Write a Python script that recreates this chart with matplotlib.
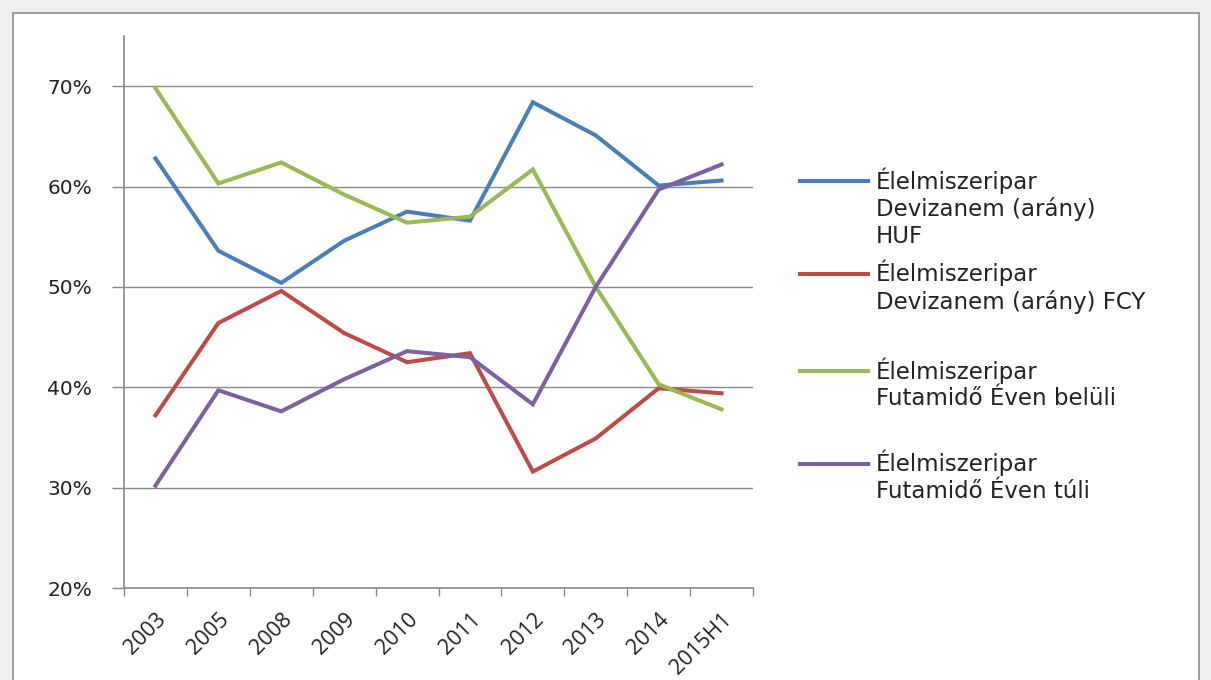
import matplotlib
matplotlib.use("Agg")
import matplotlib.pyplot as plt
from matplotlib.lines import Line2D
from matplotlib.patches import Rectangle
from matplotlib.ticker import FixedLocator, PercentFormatter

# data (percent)
years = ['2003', '2005', '2008', '2009', '2010', '2011', '2012', '2013', '2014', '2015H1']
huf = [62.8, 53.6, 50.4, 54.6, 57.5, 56.6, 68.4, 65.1, 60.1, 60.6]
fcy = [37.2, 46.4, 49.6, 45.4, 42.5, 43.4, 31.6, 34.9, 39.9, 39.4]
short_term = [69.8, 60.3, 62.4, 59.2, 56.4, 57.0, 61.7, 50.0, 40.3, 37.8]
long_term = [30.2, 39.7, 37.6, 40.8, 43.6, 43.0, 38.3, 50.0, 59.7, 62.2]
y_ticks = [20, 30, 40, 50, 60, 70]

labels = ["Élelmiszeripar\nDevizanem (arány)\nHUF",
          "Élelmiszeripar\nDevizanem (arány) FCY",
          "Élelmiszeripar\nFutamidő Éven belüli",
          "Élelmiszeripar\nFutamidő Éven túli"]
colors = ['#4a7ebb', '#be4b48', '#98b954', '#7d60a0']
series = [huf, fcy, short_term, long_term]

W, H = 1211, 680
fig = plt.figure(figsize=(W / 100, H / 100), dpi=100)
fig.patch.set_facecolor('#efefef')
# white chart area with grey frame
fig.patches.append(Rectangle((13 / W, -0.01), (1199 - 13) / W, 1.01 - 13 / H,
                             transform=fig.transFigure, facecolor='white',
                             edgecolor='#8c8c8c', lw=1.2, zorder=-5))

ax = fig.add_axes([124 / W, 1 - 588 / H, (753 - 124) / W, (588 - 36) / H])
ax.set_zorder(2)
ax.patch.set_alpha(0)
x = list(range(len(years)))
for s, c in zip(series, colors):
    ax.plot(x, s, color=c, lw=2.9, solid_joinstyle='miter', zorder=3)

ax.set_xlim(-0.5, len(years) - 0.5)
ax.set_ylim(20, 75)
ax.set_yticks(y_ticks)
ax.yaxis.set_major_formatter(PercentFormatter(decimals=0))
ax.grid(axis='y', color='#8a8a8a', lw=1)
for sp in ['top', 'right']:
    ax.spines[sp].set_visible(False)
for sp in ['left', 'bottom']:
    ax.spines[sp].set_color('#8a8a8a')
    ax.spines[sp].set_linewidth(1.2)

ax.tick_params(axis='y', length=9, width=1, color='#8a8a8a', pad=14,
               labelsize=14.5, labelcolor='#222222')
ax.set_xticks(x)
ax.set_xticklabels(years, rotation=45, ha='right', rotation_mode='anchor',
                   fontsize=15.5, family='Open Sans', color='#222222')
ax.tick_params(axis='x', which='major', length=0, pad=15)
ax.xaxis.set_minor_locator(FixedLocator([i - 0.5 for i in range(len(years) + 1)]))
ax.tick_params(axis='x', which='minor', length=6, width=1, color='#8a8a8a')

# legend drawn to the right, handle aligned with first text line
leg_y = [181, 274, 371, 464]
for lab, c, yy in zip(labels, colors, leg_y):
    fig.add_artist(Line2D([800 / W, 868 / W], [1 - yy / H, 1 - yy / H],
                          transform=fig.transFigure, color=c, lw=2.9))
    fig.text(876 / W, 1 - (yy - 14) / H, lab, ha='left', va='top',
             fontsize=16.5, color='#222222', linespacing=1.2)

fig.savefig('out.png', dpi=100, facecolor=fig.get_facecolor())
